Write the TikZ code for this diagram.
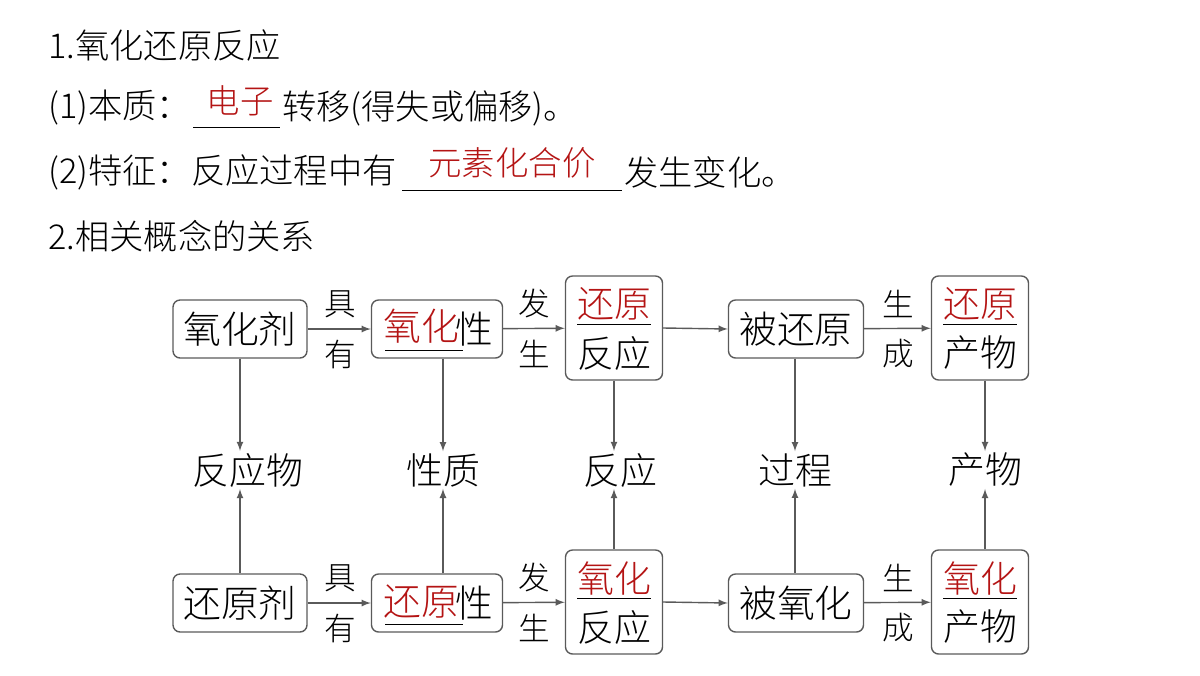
\documentclass[tikz,border=0pt]{standalone}
\usepackage{fontspec}
\newfontfamily\cjk{Noto Sans CJK SC Light}
\usetikzlibrary{positioning}
\definecolor{ans}{RGB}{180,20,20}
\definecolor{frame}{RGB}{90,90,90}

\begin{document}
\begin{tikzpicture}[x=0.02cm, y=-0.02cm,
  line node/.style={anchor=west, inner sep=0pt, font=\cjk\fontsize{19.5}{22}\selectfont},
  ans node/.style={inner sep=0pt, text=ans, font=\cjk\fontsize{19}{22}\selectfont},
  box/.style={draw=frame, rounded corners=4pt, thick, minimum width=2.68cm, minimum height=1.16cm,
    inner sep=1pt, font=\cjk\fontsize{21.5}{24}\selectfont},
  tall box/.style={box, minimum width=1.94cm, minimum height=2.08cm},
  word/.style={inner sep=1pt, font=\cjk\fontsize{21}{24}\selectfont},
  small word/.style={inner sep=0pt, font=\cjk\fontsize{18}{20}\selectfont},
  arr/.style={-latex, draw=frame, thick}]
\useasboundingbox (0,0) rectangle (1200,676);

% text lines
\node[line node] (l1) at (48,45) {1.氧化还原反应};
\node[line node] (l2) at (48,108) {(1)本质：};
\node[line node] (l2b) at (282,108) {转移(得失或偏移)。};
\draw (193,127) -- (280,127);
\node[ans node] (e1) at (240,101) {电子};
\node[line node] (l3) at (48,172) {(2)特征：反应过程中有};
\node[line node] (l3b) at (624,172) {发生变化。};
\draw (402,190) -- (622,190);
\node[ans node] (e2) at (512,163) {元素化合价};
\node[line node] (l4) at (48,236) {2.相关概念的关系};

% top row
\node[box] (oxa) at (240,329) {氧化剂};
\node[box, minimum width=2.62cm] (oxp) at (437,329) {\phantom{氧化}性};
\node[ans node, font=\cjk\fontsize{21.5}{24}\selectfont] (oxpa) at (421,326) {氧化};
\draw (385,350) -- (463,350);
\node[tall box] (redr) at (614,328) {};
\node[word, text=ans] (redra) at (614,304) {还原};
\draw (577,324) -- (651,324);
\node[word] (redrb) at (614,353) {反应};
\node[box, minimum width=2.7cm] (bred) at (796,329) {被还原};
\node[tall box] (redpr) at (980,328) {};
\node[word, text=ans] (redpra) at (980,304) {还原};
\draw (943,324) -- (1017,324);
\node[word] (redprb) at (980,353) {产物};

% middle row
\node[word] (m1) at (248,470) {反应物};
\node[word] (m2) at (443,470) {性质};
\node[word] (m3) at (620,470) {反应};
\node[word] (m4) at (795,470) {过程};
\node[word] (m5) at (985,470) {产物};

% bottom row
\node[box] (rda) at (240,603) {还原剂};
\node[box, minimum width=2.62cm] (rdp) at (437,603) {\phantom{还原}性};
\node[ans node, font=\cjk\fontsize{21.5}{24}\selectfont] (rdpa) at (421,602) {还原};
\draw (385,624) -- (463,624);
\node[tall box] (oxr) at (614,602) {};
\node[word, text=ans] (oxra) at (614,578) {氧化};
\draw (577,598) -- (651,598);
\node[word] (oxrb) at (614,627) {反应};
\node[box, minimum width=2.7cm] (box) at (796,603) {被氧化};
\node[tall box] (oxpr) at (980,602) {};
\node[word, text=ans] (oxpra) at (980,578) {氧化};
\draw (943,598) -- (1017,598);
\node[word] (oxprb) at (980,627) {产物};

% horizontal arrows with labels
\foreach \a/\b/\s/\t/\x/\y in {oxa/oxp/具/有/340/329, oxp/redr/发/生/534/329,
  rda/rdp/具/有/340/603, rdp/oxr/发/生/534/603, bred/redpr/生/成/898/329, box/oxpr/生/成/898/603}{
  \draw[arr] (\a) -- (\b);
  \node[small word] at (\x,\y-25) {\s};
  \node[small word] at (\x,\y+25) {\t};
}
\draw[arr] (redr.east) -- (bred.west);
\draw[arr] (oxr.east) -- (box.west);

% vertical arrows
\draw[arr] (oxa.south) -- (m1.north -| oxa.south);
\draw[arr] (rda.north) -- (m1.south -| rda.north);
\draw[arr] (oxp.south -| m2) -- (m2.north);
\draw[arr] (rdp.north -| m2) -- (m2.south);
\draw[arr] (redr.south) -- (m3.north -| redr.south);
\draw[arr] (oxr.north) -- (m3.south -| oxr.north);
\draw[arr] (bred.south -| m4) -- (m4.north);
\draw[arr] (box.north -| m4) -- (m4.south);
\draw[arr] (redpr.south -| m5) -- (m5.north);
\draw[arr] (oxpr.north -| m5) -- (m5.south);
\end{tikzpicture}
\end{document}
